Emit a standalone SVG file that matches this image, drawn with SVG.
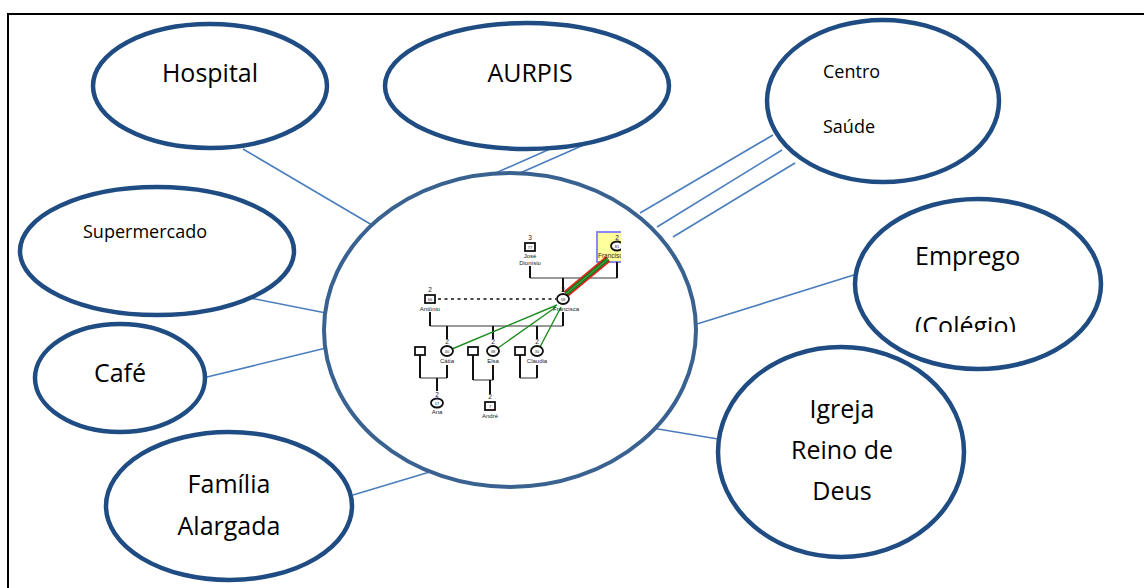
<svg xmlns="http://www.w3.org/2000/svg" width="1144" height="588" viewBox="0 0 1144 588">
<defs>
<style>
.n{fill:#fff;stroke:#1F4C82;stroke-width:4.5}
.c{fill:none;stroke:#4A7EBE;stroke-width:1.6}
.t{font-family:"Open Sans","Noto Sans",sans-serif;fill:#000}
.g{font-family:"Liberation Sans",Arial,sans-serif;fill:#222;text-anchor:middle}
.k{stroke:#111;stroke-width:2;fill:none}
.h{stroke:#999;stroke-width:1.8;fill:none}
.sh{fill:#fff;stroke:#111;stroke-width:1.8}
.gr{stroke:#1E8C1E;stroke-width:1.4;fill:none}
</style>
<clipPath id="genoClip"><rect x="380" y="225" width="241" height="210"/></clipPath>
<clipPath id="empClip"><rect x="850" y="190" width="260" height="142"/></clipPath>
</defs>
<rect width="1144" height="588" fill="#fff"/>
<path d="M8,600 V14 H1150" fill="none" stroke="#000" stroke-width="2"/>

<g id="connectors">
<line class="c" x1="243" y1="149" x2="372" y2="225"/>
<line class="c" x1="245" y1="297" x2="326" y2="313"/>
<line class="c" x1="207" y1="377" x2="326" y2="348"/>
<line class="c" x1="353" y1="495" x2="453" y2="465"/>
<line class="c" x1="482" y1="179" x2="550" y2="149"/>
<line class="c" x1="520" y1="173" x2="611" y2="133"/>
<line class="c" x1="640" y1="213" x2="773" y2="135"/>
<line class="c" x1="657" y1="227" x2="782" y2="150"/>
<line class="c" x1="673" y1="237" x2="795" y2="163"/>
<line class="c" x1="697" y1="324" x2="857" y2="274"/>
<line class="c" x1="652" y1="428" x2="718" y2="439"/>
</g>

<g id="hospital">
<ellipse class="n" cx="210" cy="86" rx="117" ry="62"/>
<text class="t" x="210" y="82" font-size="25" text-anchor="middle">Hospital</text>
</g>
<g id="aurpis">
<ellipse class="n" cx="527" cy="86" rx="142" ry="63"/>
<text class="t" x="530" y="82" font-size="25" text-anchor="middle">AURPIS</text>
</g>
<g id="centro-saude">
<ellipse class="n" cx="883" cy="101" rx="116" ry="81"/>
<text class="t" x="823" y="78" font-size="18">Centro</text>
<text class="t" x="823" y="133" font-size="18">Saúde</text>
</g>
<g id="supermercado">
<ellipse class="n" cx="157" cy="251" rx="137" ry="64"/>
<text class="t" x="83" y="238" font-size="18">Supermercado</text>
</g>
<g id="cafe">
<ellipse class="n" cx="120" cy="378" rx="85" ry="54"/>
<text class="t" x="120" y="382" font-size="25" text-anchor="middle">Café</text>
</g>
<g id="familia">
<ellipse class="n" cx="229" cy="506" rx="123" ry="74"/>
<text class="t" x="229" y="493" font-size="25" text-anchor="middle">Família</text>
<text class="t" x="229" y="535" font-size="25" text-anchor="middle">Alargada</text>
</g>
<g id="emprego">
<ellipse class="n" cx="978" cy="284" rx="123" ry="85"/>
<text class="t" x="915" y="265" font-size="25">Emprego</text>
<text class="t" x="915" y="335" font-size="25" clip-path="url(#empClip)">(Colégio)</text>
</g>
<g id="igreja">
<ellipse class="n" cx="841" cy="452" rx="123" ry="105"/>
<text class="t" x="842" y="418" font-size="25" text-anchor="middle">Igreja</text>
<text class="t" x="842" y="459" font-size="25" text-anchor="middle">Reino de</text>
<text class="t" x="842" y="500" font-size="25" text-anchor="middle">Deus</text>
</g>

<g id="center">
<ellipse cx="510" cy="330" rx="186" ry="157" fill="#fff" stroke="#3A6290" stroke-width="4"/>
<g id="genogram" clip-path="url(#genoClip)">
<rect x="597" y="232" width="40" height="30" fill="#FFFF9C" stroke="#8A8AF0" stroke-width="2"/>
<path class="h" d="M530,278 H617"/>
<path class="k" d="M530,266 V278 M617,262 V278 M563,278 V292"/>
<line x1="438" y1="299" x2="556" y2="299" stroke="#111" stroke-width="1.4" stroke-dasharray="3,3.5"/>
<path class="h" d="M430,326 H563"/>
<path class="k" d="M430,312 V326 M563,312 V326 M447,326 V339 M493,326 V339 M537,326 V339"/>
<path class="h" d="M420,378 H447 M473,380 H493 M520,378 H537"/>
<path class="k" d="M420,355 V378 M447,365 V378 M437,378 V391 M473,355 V380 M493,365 V380 M490,380 V394 M520,355 V378 M537,365 V378"/>
<line x1="566" y1="294" x2="608" y2="259" stroke="#E8201A" stroke-width="7"/>
<line x1="566" y1="294" x2="608" y2="259" stroke="#1E7A1E" stroke-width="4.2"/>
<line x1="566" y1="294" x2="608" y2="259" stroke="#4FB04F" stroke-width="1"/>
<path class="gr" d="M557,305 L452,349 M556,307 L498,348 M561,307 L540,347"/>
<g id="jose">
<rect class="sh" x="525" y="243" width="10" height="8"/>
<text class="g" x="530" y="249" font-size="4">77</text>
<text class="g" x="530" y="240" font-size="6.5">3</text>
<text class="g" x="530" y="258" font-size="6">José</text>
<text class="g" x="530" y="264.5" font-size="6">Dionísio</text>
</g>
<g id="index">
<text class="g" x="617" y="240" font-size="6.5">2</text>
<ellipse class="sh" cx="617" cy="246" rx="6" ry="4.5"/>
<text class="g" x="617" y="248" font-size="4">81</text>
<text class="g" x="612" y="258" font-size="6.5">Francisca</text>
</g>
<g id="antonio">
<text class="g" x="430" y="292" font-size="6.5">2</text>
<rect class="sh" x="425" y="295" width="10" height="8"/>
<text class="g" x="430" y="301" font-size="4">66</text>
<text class="g" x="430" y="311" font-size="6">Antônio</text>
</g>
<g id="francisca">
<text class="g" x="563" y="292" font-size="6.5">2</text>
<ellipse class="sh" cx="563" cy="299" rx="6" ry="5"/>
<text class="g" x="563" y="301" font-size="4">58</text>
<text class="g" x="566" y="311" font-size="6">Francisca</text>
</g>
<g id="catia">
<text class="g" x="447" y="344" font-size="6.5">2</text>
<ellipse class="sh" cx="447" cy="351" rx="6" ry="5"/>
<text class="g" x="447" y="353" font-size="4">40</text>
<text class="g" x="447" y="363" font-size="6">Cátia</text>
</g>
<g id="elsa">
<text class="g" x="493" y="344" font-size="6.5">2</text>
<ellipse class="sh" cx="493" cy="351" rx="6" ry="5"/>
<text class="g" x="493" y="353" font-size="4">38</text>
<text class="g" x="493" y="363" font-size="6">Elsa</text>
</g>
<g id="claudia">
<text class="g" x="537" y="344" font-size="6.5">2</text>
<ellipse class="sh" cx="537" cy="351" rx="6" ry="5"/>
<text class="g" x="537" y="353" font-size="4">30</text>
<text class="g" x="537" y="363" font-size="6">Claudia</text>
</g>
<g id="husbands">
<rect class="sh" x="415" y="347" width="10" height="8"/>
<rect class="sh" x="468" y="347" width="10" height="8"/>
<rect class="sh" x="515" y="347" width="10" height="8"/>
</g>
<g id="ana">
<text class="g" x="437" y="397" font-size="6.5">2</text>
<ellipse class="sh" cx="437" cy="403" rx="6" ry="4.5"/>
<text class="g" x="437" y="405" font-size="4">17</text>
<text class="g" x="437" y="414" font-size="6">Ana</text>
</g>
<g id="andre">
<text class="g" x="490" y="399" font-size="6.5">2</text>
<rect class="sh" x="485" y="402" width="10" height="8"/>
<text class="g" x="490" y="408" font-size="4">7</text>
<text class="g" x="490" y="418" font-size="6">André</text>
</g>
</g>
</g>
</svg>
